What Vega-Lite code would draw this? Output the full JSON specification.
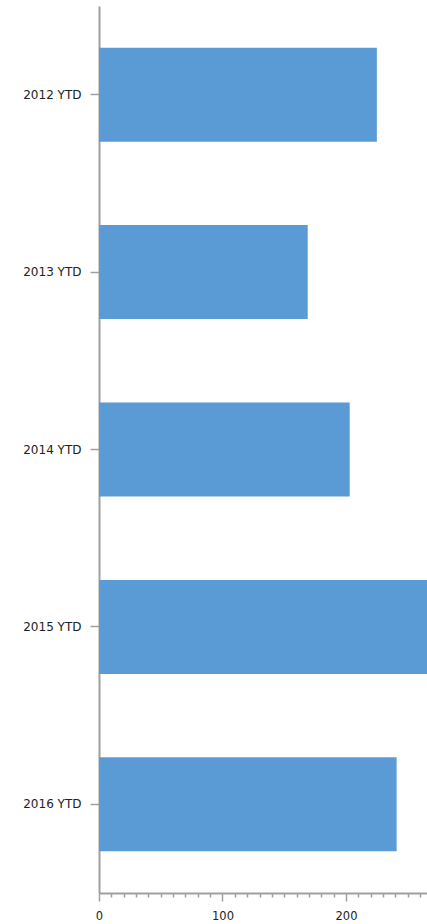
{
  "$schema": "https://vega.github.io/schema/vega-lite/v6.json",
  "autosize": {"type": "none"},
  "padding": {"left": 99, "top": 6, "right": 0, "bottom": 31},
  "width": 328,
  "height": 887,
  "background": "white",
  "config": {"view": {"stroke": null}},
  "data": {"values": [
    {"year": "2012 YTD", "value": 225},
    {"year": "2013 YTD", "value": 169},
    {"year": "2014 YTD", "value": 203},
    {"year": "2015 YTD", "value": 290},
    {"year": "2016 YTD", "value": 241}
  ]},
  "mark": {"type": "bar", "color": "#5b9bd5", "clip": true},
  "encoding": {
    "y": {
      "field": "year", "type": "nominal", "sort": null,
      "scale": {"paddingInner": 0.47, "paddingOuter": 0.235},
      "axis": {
        "title": null, "domainColor": "#a0a0a0", "domainWidth": 2,
        "tickColor": "#a0a0a0", "tickSize": 9, "tickWidth": 1.5,
        "labelPadding": 9, "labelFont": "DejaVu Sans", "labelFontSize": 12,
        "labelColor": "#222222"
      }
    },
    "x": {
      "field": "value", "type": "quantitative",
      "scale": {"domain": [0, 265.6], "nice": false},
      "axis": {
        "title": null, "grid": false,
        "values": [0,10,20,30,40,50,60,70,80,90,100,110,120,130,140,150,160,170,180,190,200,210,220,230,240,250,260],
        "labelExpr": "datum.value % 100 === 0 ? datum.label : ''",
        "domainColor": "#a0a0a0", "domainWidth": 2,
        "tickColor": "#a0a0a0", "tickWidth": 1.5,
        "tickSize": {"condition": {"test": "datum.value % 100 === 0", "value": 8}, "value": 4},
        "labelPadding": 9, "labelFont": "DejaVu Sans", "labelFontSize": 11.5,
        "labelColor": "#222222", "labelOverlap": false, "labelFlush": false
      }
    }
  }
}
